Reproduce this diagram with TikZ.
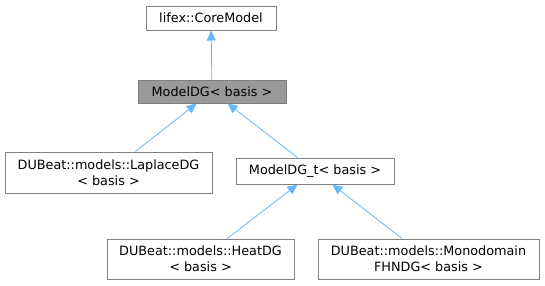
\documentclass[tikz,border=0pt]{standalone}
\usepackage{fontspec}
\setmainfont{DejaVu Sans}
\usetikzlibrary{arrows.meta}
\definecolor{edgeblue}{HTML}{63B8FF}
\definecolor{boxline}{HTML}{808080}
\definecolor{basefill}{HTML}{999999}

\begin{document}
\begin{tikzpicture}
[
x=1pt,y=-1pt,
font=\fontsize{12.8}{16}\selectfont,
classbox/.style 2 args={draw=boxline,fill=white,line width=1pt,inner sep=0pt,align=center,
            minimum width=#1,minimum height=#2},
basebox/.style={fill=basefill},
inherit/.style={draw=edgeblue,line width=0.8pt,-{Triangle[length=10pt,width=9pt]}},
]
\useasboundingbox (0,0) rectangle (545,285);

%Place the nodes
\node[classbox={130pt}{24pt}] (core) at (211,18) {lifex::CoreModel};
\node[classbox={148pt}{23pt},basebox] (modeldg) at (212,91.5) {ModelDG< basis >};
\node[classbox={207pt}{41pt}] (laplace) at (108.5,172.5) {DUBeat::models::LaplaceDG\\< basis >};
\node[classbox={158pt}{26pt}] (modeldgt) at (315,171) {ModelDG\_t< basis >};
\node[classbox={187pt}{40pt}] (heat) at (200.5,259) {DUBeat::models::HeatDG\\< basis >};
\node[classbox={221pt}{40pt}] (mono) at (428.5,259) {DUBeat::models::Monodomain\\FHNDG< basis >};

%Draw the connections
\draw[inherit] (modeldg) to (core);
\draw[inherit] (laplace) to (modeldg);
\draw[inherit] (modeldgt) to (modeldg);
\draw[inherit] (heat) to (modeldgt);
\draw[inherit] (mono) to (modeldgt);
\end{tikzpicture}
\end{document}
